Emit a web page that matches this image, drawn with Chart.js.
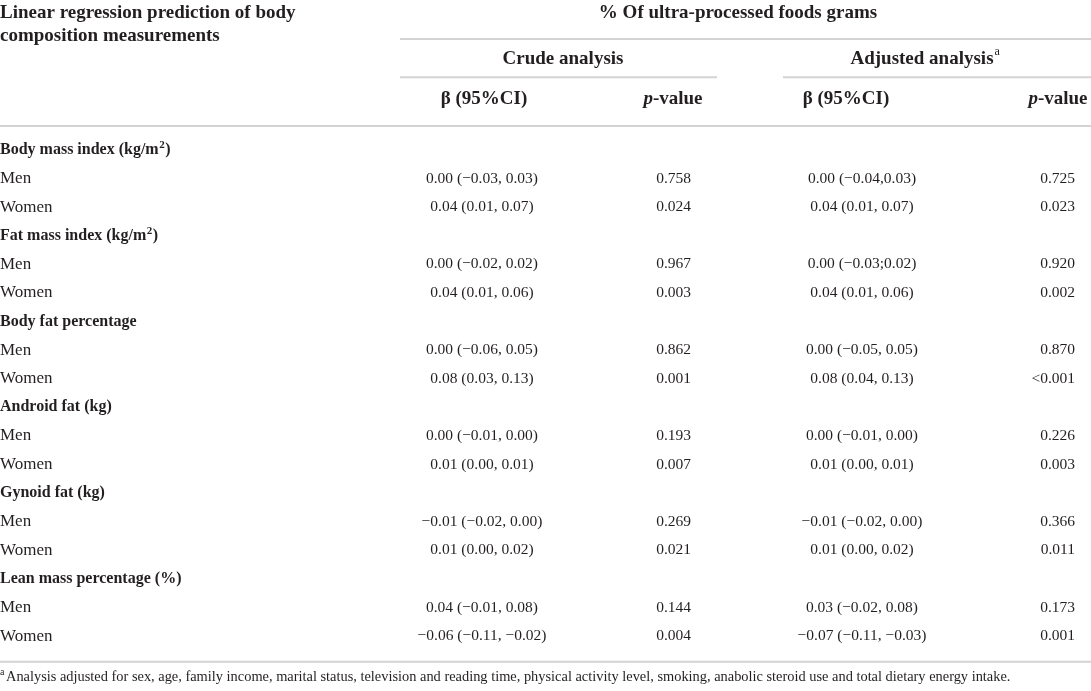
<!DOCTYPE html>
<html>
<head>
<meta charset="utf-8">
<script src="https://cdn.jsdelivr.net/npm/chart.js@4.4.1/dist/chart.umd.min.js"></script>
<style>
  html, body { margin: 0; padding: 0; background: #fff; }
  canvas { display: block; }
</style>
</head>
<body>
<canvas id="tableChart" width="1091" height="691"></canvas>
<script>
// table content
var rowHeading = ['Linear regression prediction of body', 'composition measurements'];
var groupTitle = '% Of ultra-processed foods grams';
var analyses = ['Crude analysis', 'Adjusted analysis'];
var measures = ['Body mass index (kg/m\u00b2)', 'Fat mass index (kg/m\u00b2)', 'Body fat percentage',
  'Android fat (kg)', 'Gynoid fat (kg)', 'Lean mass percentage (%)'];
var sexes = ['Men', 'Women'];
// men, women for each measure
var crudeBeta = ['0.00 (\u22120.03, 0.03)', '0.04 (0.01, 0.07)', '0.00 (\u22120.02, 0.02)', '0.04 (0.01, 0.06)',
  '0.00 (\u22120.06, 0.05)', '0.08 (0.03, 0.13)', '0.00 (\u22120.01, 0.00)', '0.01 (0.00, 0.01)',
  '\u22120.01 (\u22120.02, 0.00)', '0.01 (0.00, 0.02)', '0.04 (\u22120.01, 0.08)', '\u22120.06 (\u22120.11, \u22120.02)'];
var crudeP = ['0.758', '0.024', '0.967', '0.003', '0.862', '0.001', '0.193', '0.007', '0.269', '0.021', '0.144', '0.004'];
var adjBeta = ['0.00 (\u22120.04,0.03)', '0.04 (0.01, 0.07)', '0.00 (\u22120.03;0.02)', '0.04 (0.01, 0.06)',
  '0.00 (\u22120.05, 0.05)', '0.08 (0.04, 0.13)', '0.00 (\u22120.01, 0.00)', '0.01 (0.00, 0.01)',
  '\u22120.01 (\u22120.02, 0.00)', '0.01 (0.00, 0.02)', '0.03 (\u22120.02, 0.08)', '\u22120.07 (\u22120.11, \u22120.03)'];
var adjP = ['0.725', '0.023', '0.920', '0.002', '0.870', '<0.001', '0.226', '0.003', '0.366', '0.011', '0.173', '0.001'];
var footnote = 'Analysis adjusted for sex, age, family income, marital status, television and reading time, physical activity level, smoking, anabolic steroid use and total dietary energy intake.';

// layout: x in pixels of the x scale, y in table rows of the y scale
var SERIF = '"Liberation Serif", "DejaVu Serif", serif';
var INK = '#231f20';
var RULE = '#d3d3d3';
var col = { label: 0, crudeB: 482, crudeP: 691, adjB: 862, adjP: 1075 };

function rowOf(m, s) { return m * 3 + 1 + s; }

var measureRows = measures.map(function (t, m) { return { x: col.label, y: m * 3 }; });
var sexRows = [], sexTexts = [];
measures.forEach(function (t, m) {
  sexes.forEach(function (s, k) {
    sexRows.push({ x: col.label, y: rowOf(m, k) });
    sexTexts.push(s);
  });
});
function colPoints(x) {
  return sexRows.map(function (p) { return { x: x, y: p.y }; });
}

function cellSet(points, texts, font, align) {
  return { data: points, texts: texts, font: font, align: align, pointRadius: 0, showLine: false };
}

// draws left-aligned text, turning "²" into a raised small 2
function fillWithSup(ctx, text, x, y, font, supFont) {
  var parts = text.split('\u00b2');
  if (parts.length === 1) { ctx.fillText(text, x, y); return; }
  ctx.fillText(parts[0], x, y);
  var cx = x + ctx.measureText(parts[0]).width;
  ctx.font = supFont;
  ctx.fillText('2', cx + 0.5, y - 5);
  cx += ctx.measureText('2').width + 1;
  ctx.font = font;
  ctx.fillText(parts[1], cx, y);
}

var tablePlugin = {
  id: 'tableText',
  afterDatasetsDraw: function (chart) {
    var ctx = chart.ctx, xs = chart.scales.x, ys = chart.scales.y;
    var X = function (v) { return xs.getPixelForValue(v); };
    var Y = function (v) { return ys.getPixelForValue(v); };
    ctx.save();
    ctx.fillStyle = INK;
    ctx.textBaseline = 'middle';

    // body cells
    chart.data.datasets.forEach(function (ds, i) {
      ctx.font = ds.font;
      ctx.textAlign = ds.align;
      chart.getDatasetMeta(i).data.forEach(function (el, j) {
        if (ds.align === 'left') {
          fillWithSup(ctx, ds.texts[j], el.x, el.y, ds.font, 'bold 11px ' + SERIF);
        } else {
          ctx.fillText(ds.texts[j], el.x, el.y);
        }
      });
    });

    // rules
    ctx.strokeStyle = RULE;
    ctx.lineWidth = 2;
    [[400, 1091, -3.88], [400, 717, -2.54], [783, 1091, -2.54], [0, 1091, -0.84], [0, 1091, 17.9]]
      .forEach(function (r) {
        ctx.beginPath();
        ctx.moveTo(X(r[0]), Y(r[2]));
        ctx.lineTo(X(r[1]), Y(r[2]));
        ctx.stroke();
      });

    // header
    var bold = 'bold 19px ' + SERIF;
    var boldIt = 'italic bold 19px ' + SERIF;
    ctx.font = bold;
    ctx.textAlign = 'left';
    ctx.fillText(rowHeading[0], X(0), Y(-4.8));
    ctx.fillText(rowHeading[1], X(0), Y(-3.97));
    ctx.textAlign = 'center';
    ctx.fillText(groupTitle, X(738), Y(-4.8));
    ctx.fillText(analyses[0], X(563), Y(-3.17));

    ctx.textAlign = 'left';
    var w = ctx.measureText(analyses[1]).width;
    var ax = X(926) - (w + 8) / 2;
    ctx.fillText(analyses[1], ax, Y(-3.17));
    ctx.font = '12px ' + SERIF;
    ctx.fillText('a', ax + w + 1, Y(-3.17) - 7);

    ctx.font = bold;
    ctx.textAlign = 'center';
    ctx.fillText('\u03b2 (95%CI)', X(484), Y(-1.78));
    ctx.fillText('\u03b2 (95%CI)', X(846), Y(-1.78));

    // p-value headers with italic p
    [673, 1058].forEach(function (cx) {
      ctx.textAlign = 'left';
      ctx.font = boldIt;
      var pw = ctx.measureText('p').width;
      ctx.font = bold;
      var vw = ctx.measureText('-value').width;
      var x0 = X(cx) - (pw + vw) / 2;
      ctx.font = boldIt;
      ctx.fillText('p', x0, Y(-1.78));
      ctx.font = bold;
      ctx.fillText('-value', x0 + pw, Y(-1.78));
    });

    // footnote
    ctx.textAlign = 'left';
    ctx.font = '10px ' + SERIF;
    ctx.fillText('a', X(0), Y(18.45) - 5);
    ctx.font = '14.4px ' + SERIF;
    ctx.fillText(footnote, X(6), Y(18.45));
    ctx.restore();
  }
};

var ctxT = document.getElementById('tableChart').getContext('2d');
var tableChart = new Chart(ctxT, {
  type: 'scatter',
  data: {
    datasets: [
      cellSet(measureRows, measures, 'bold 16px ' + SERIF, 'left'),
      cellSet(sexRows, sexTexts, '17px ' + SERIF, 'left'),
      cellSet(colPoints(col.crudeB), crudeBeta, '15.5px ' + SERIF, 'center'),
      cellSet(colPoints(col.crudeP), crudeP, '15.5px ' + SERIF, 'right'),
      cellSet(colPoints(col.adjB), adjBeta, '15.5px ' + SERIF, 'center'),
      cellSet(colPoints(col.adjP), adjP, '15.5px ' + SERIF, 'right')
    ]
  },
  options: {
    responsive: false,
    animation: false,
    layout: { padding: 0 },
    plugins: { legend: { display: false }, tooltip: { enabled: false } },
    scales: {
      x: { type: 'linear', min: 0, max: 1091, display: false },
      y: { type: 'linear', min: -5.245, max: 18.92, reverse: true, display: false }
    }
  },
  plugins: [tablePlugin]
});
</script>
</body>
</html>
